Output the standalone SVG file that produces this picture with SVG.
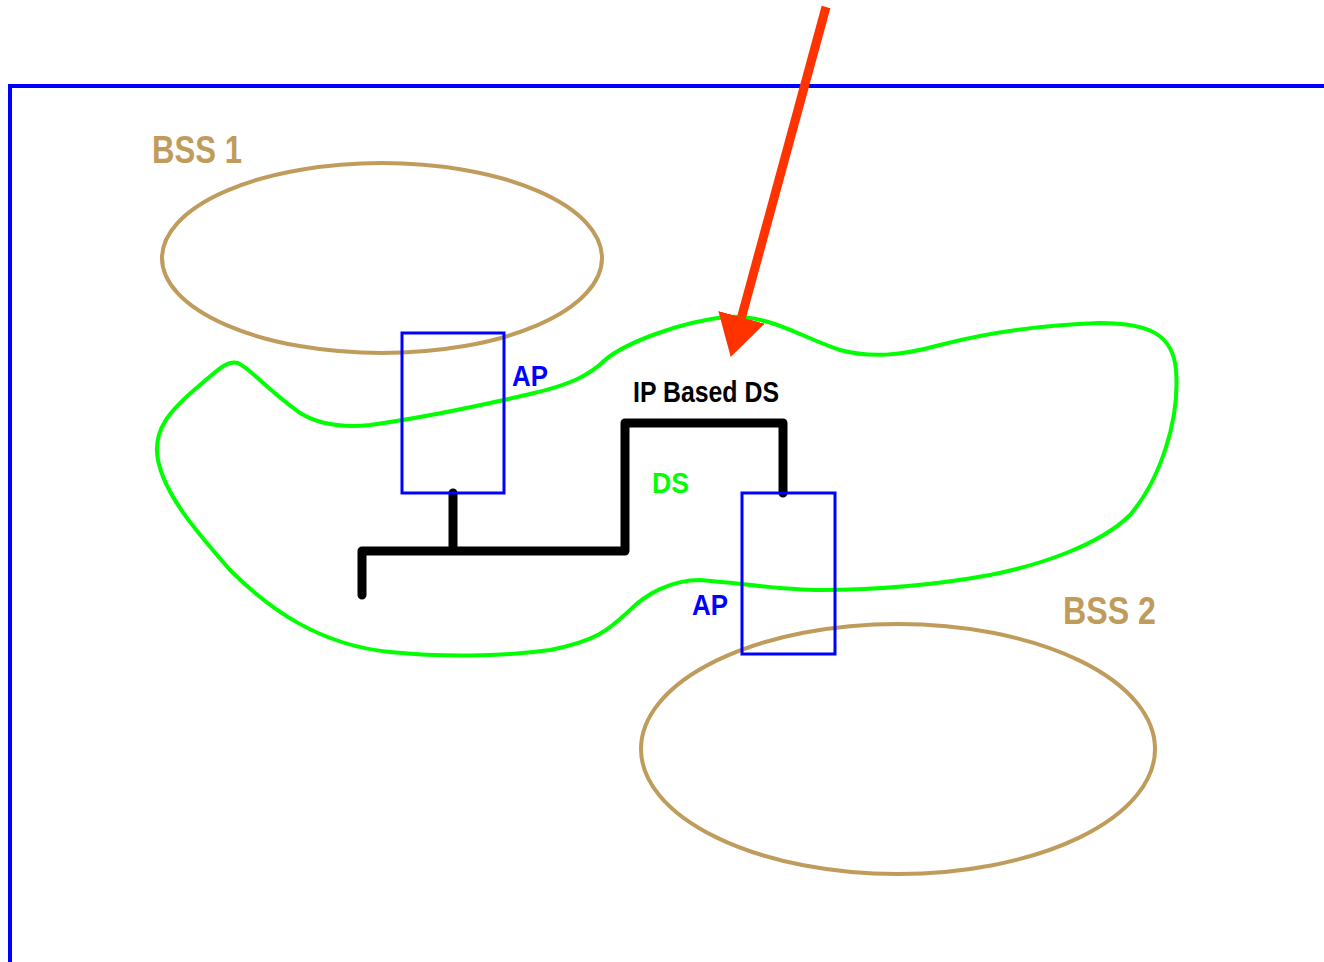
<svg xmlns="http://www.w3.org/2000/svg" width="1324" height="962" viewBox="0 0 1324 962">
<style>
.bss{fill:none;stroke:#BF9B5C;stroke-width:4}
.ap{fill:none;stroke:#0000FF;stroke-width:3}
.t{font-family:"Liberation Sans",Arial,sans-serif;font-weight:bold}
.tan{fill:#BF9B5C}
.blue{fill:#0000FF}
</style>
<defs>
<marker id="ah" markerUnits="userSpaceOnUse" markerWidth="50" markerHeight="50" refX="0" refY="24" orient="auto" viewBox="0 0 50 50">
<path d="M0,0 L41,24 L0,48 Z" fill="#FF3300"/>
</marker>
</defs>
<rect width="1324" height="962" fill="#FFFFFF"/>
<path d="M10,962 L10,86 L1324,86" fill="none" stroke="#0000FF" stroke-width="4"/>
<g id="bss1"><ellipse class="bss" cx="382" cy="258" rx="220" ry="95"/><text class="t tan" x="152" y="163" font-size="38" textLength="90" lengthAdjust="spacingAndGlyphs">BSS 1</text></g>
<g id="bss2"><ellipse class="bss" cx="898" cy="749" rx="257" ry="125"/><text class="t tan" x="1063" y="624" font-size="38" textLength="93" lengthAdjust="spacingAndGlyphs">BSS 2</text></g>
<g id="ds"><path d="M238,363 C252,370 262,385 300,413 C318,424 340,428 370,425 C420,418 470,408 530,394 C570,385 590,375 605,360 C625,343 680,322 725,317 C770,314 800,337 840,350 C870,358 900,356 940,345 C990,332 1040,325 1100,323 C1150,323 1173,335 1176,370 C1180,420 1160,480 1130,515 C1100,545 1040,565 990,575 C940,584 880,590 820,590 C780,590 740,583 700,580 C670,580 645,595 630,610 C610,628 600,640 550,650 C500,657 440,657 390,652 C320,645 270,610 230,570 C195,530 165,495 158,460 C152,430 170,410 200,385 C220,368 228,360 238,363 Z" fill="none" stroke="#00FF00" stroke-width="4"/>
<text class="t" x="652" y="493" font-size="29" fill="#00FF00" textLength="37" lengthAdjust="spacingAndGlyphs">DS</text></g>
<g id="wire"><path d="M453,493 L453,549 M362,595 L362,551 L625,551 L625,423 L783,423 L783,493" fill="none" stroke="#000000" stroke-width="9" stroke-linecap="round" stroke-linejoin="round"/>
<text class="t" x="633" y="402" font-size="29" fill="#000000" textLength="146" lengthAdjust="spacingAndGlyphs">IP Based DS</text></g>
<g id="ap1"><rect class="ap" x="402" y="333" width="102" height="160"/><text class="t blue" x="512" y="386" font-size="29" textLength="36" lengthAdjust="spacingAndGlyphs">AP</text></g>
<g id="ap2"><rect class="ap" x="742" y="493" width="93" height="161"/><text class="t blue" x="692" y="615" font-size="29" textLength="36" lengthAdjust="spacingAndGlyphs">AP</text></g>
<g id="connectors"><line x1="826" y1="7" x2="741.5" y2="317.4" stroke="#FF3300" stroke-width="9" marker-end="url(#ah)"/></g>
</svg>
